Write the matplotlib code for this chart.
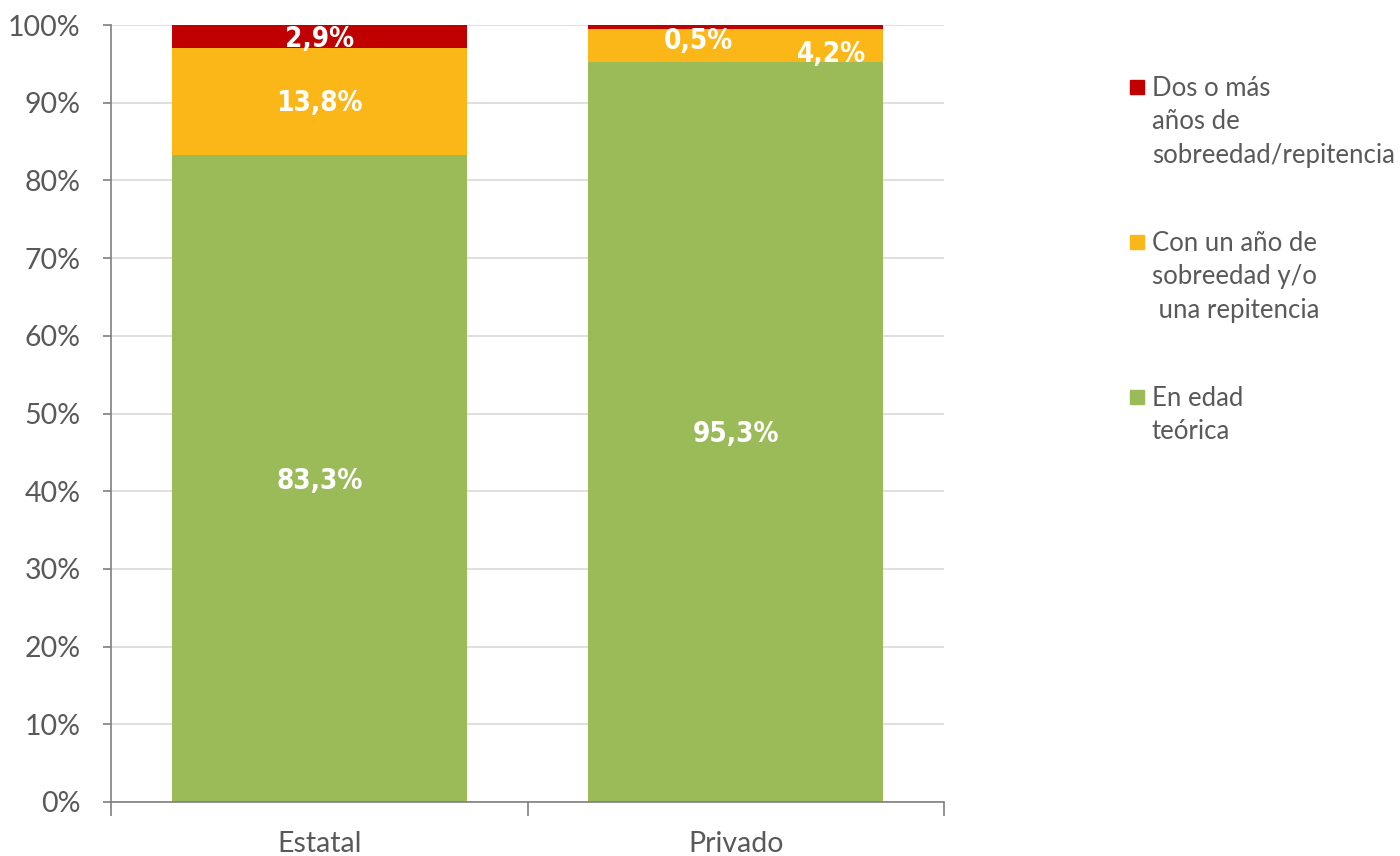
import matplotlib.pyplot as plt
from matplotlib.patches import Rectangle

# datos
categorias = ["Estatal", "Privado"]
en_edad = [83.3, 95.3]
un_anio = [13.8, 4.2]
dos_o_mas = [2.9, 0.5]

nombres = ["En edad\nteórica",
           "Con un año de\nsobreedad y/o\n una repitencia",
           "Dos o más\naños de\nsobreedad/repitencia"]
colores = ["#9BBB59", "#FBB717", "#C00000"]
series = list(zip(nombres, [en_edad, un_anio, dos_o_mas], colores))

GRIS = "#595959"
plt.rcParams["font.family"] = ["Lato", "DejaVu Sans"]

fig = plt.figure(figsize=(14, 8.56), dpi=100)
ax = fig.add_axes([111 / 1400, 54 / 856, 833 / 1400, 777 / 856])

x = range(len(categorias))
ancho = 0.708
base = [0.0] * len(categorias)
barras = []
for nombre, vals, color in series:
    ax.bar(x, vals, ancho, bottom=base, color=color, zorder=2)
    barras.append((vals, list(base)))
    base = [a + v for a, v in zip(base, vals)]

# etiquetas (las pequeñas del privado van desplazadas como en el original)
etiq_font = dict(color="white", fontsize=20, fontweight="bold",
                 family="DejaVu Sans", fontstretch="condensed",
                 ha="center", va="center", zorder=3)
for j, (vals, bot) in enumerate(barras):
    for i, v in enumerate(vals):
        xc, yc = i, bot[i] + v / 2 - 0.3
        if i == 1 and j == 1:
            xc, yc = 1.23, 96.3
        if i == 1 and j == 2:
            xc, yc = 0.91, 97.9
        ax.text(xc, yc, f"{v:.1f}%".replace(".", ","), **etiq_font)

ax.set_xlim(-0.5, 1.5)
ax.set_ylim(0, 100)
ax.set_yticks(range(0, 101, 10))
ax.set_yticklabels([f"{t}%" for t in range(0, 101, 10)])
ax.yaxis.grid(True, color="#D9D9D9", linewidth=1.2, zorder=0)
ax.set_axisbelow(True)

ax.set_xticks([-0.5, 0.5, 1.5], minor=False)
ax.set_xticklabels([])
ax.set_xticks(list(x), minor=True)
ax.set_xticklabels(categorias, minor=True)
ax.tick_params(axis="x", which="major", length=10, color="#7F7F7F", width=1.2)
ax.tick_params(axis="x", which="minor", length=0, labelsize=20.5, labelcolor=GRIS, pad=21)
ax.tick_params(axis="y", length=6, color="#7F7F7F", width=1.2, labelsize=20.5,
               labelcolor=GRIS, pad=16)

for s in ["top", "right"]:
    ax.spines[s].set_visible(False)
for s in ["left", "bottom"]:
    ax.spines[s].set_color("#7F7F7F")
    ax.spines[s].set_linewidth(1.2)

# leyenda manual (cuadro alineado con la primera línea)
W, H = 1400, 856
y0 = 87
for nombre, _, color in reversed(series):
    fig.add_artist(Rectangle((1130 / W, 1 - (y0 + 7) / H), 14 / W, 14 / H,
                             transform=fig.transFigure, color=color))
    fig.text(1152 / W, 1 - (y0 - 11) / H, nombre, ha="left", va="top",
             fontsize=18.5, color=GRIS, linespacing=1.42)
    y0 += 155

fig.savefig("out.png", dpi=100)
